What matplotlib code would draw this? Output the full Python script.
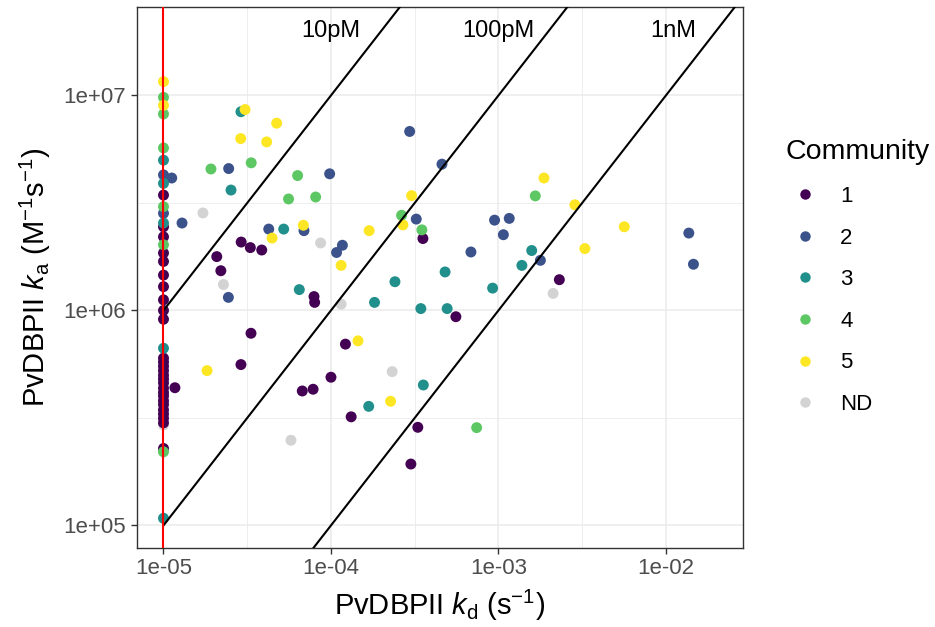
import matplotlib
matplotlib.use("Agg")
import matplotlib.pyplot as plt
from matplotlib.lines import Line2D
from matplotlib.ticker import FixedLocator, FixedFormatter, NullFormatter
import numpy as np

plt.rcParams['font.family'] = ['Liberation Sans', 'DejaVu Sans']
plt.rcParams['mathtext.fontset'] = 'custom'
plt.rcParams['mathtext.rm'] = 'Liberation Sans'
plt.rcParams['mathtext.it'] = 'Liberation Sans:italic'

# ---------------- data (kd in s^-1, ka in M^-1 s^-1) ----------------
comm1_kd = [1e-5]*26 + [1e-5,
            1.17e-5, 2.91e-5, 3.3e-5, 3.86e-5, 2.08e-5, 2.2e-5, 7.92e-5, 7.99e-5,
            3.33e-5, 2.9e-5, 1.22e-4, 1.0e-4, 6.74e-5, 7.82e-5, 1.32e-4, 3.54e-4,
            2.31e-3, 5.57e-4, 3.3e-4, 3.0e-4]
comm1_ka = [3.44e6, 2.45e6, 2.2e6, 1.85e6, 1.69e6, 1.46e6, 1.29e6, 1.12e6, 1.0e6, 9.1e5,
            6.0e5, 5.75e5, 5.5e5, 5.25e5, 5.0e5, 4.8e5, 4.6e5, 4.35e5, 4.15e5, 4.0e5,
            3.8e5, 3.65e5, 3.45e5, 3.3e5, 3.15e5, 3.0e5, 2.28e5,
            4.37e5, 2.08e6, 1.96e6, 1.91e6, 1.78e6, 1.53e6, 1.16e6, 1.09e6,
            7.83e5, 5.6e5, 6.97e5, 4.89e5, 4.22e5, 4.3e5, 3.2e5, 2.16e6,
            1.39e6, 9.35e5, 2.86e5, 1.93e5]

comm2_kd = [1e-5, 1e-5,
            1.12e-5, 1.29e-5, 2.45e-5, 9.82e-5, 4.25e-5, 6.9e-5, 1.17e-4, 1.08e-4,
            2.44e-5, 2.95e-4, 4.6e-4, 3.23e-4, 6.85e-4, 9.48e-4, 1.16e-3, 1.07e-3,
            1.78e-3, 1.37e-2, 1.46e-2]
comm2_ka = [4.27e6, 2.83e6,
            4.13e6, 2.55e6, 4.57e6, 4.32e6, 2.39e6, 2.35e6, 2.01e6, 1.86e6,
            1.15e6, 6.8e6, 4.79e6, 2.66e6, 1.87e6, 2.63e6, 2.68e6, 2.25e6,
            1.71e6, 2.29e6, 1.64e6]

comm3_kd = [1e-5]*5 + [2.9e-5, 2.53e-5, 5.22e-5, 6.47e-5, 1.82e-4, 1.68e-4, 2.41e-4,
                       4.8e-4, 9.23e-4, 1.58e-3, 1.38e-3, 3.44e-4, 4.94e-4, 3.56e-4]
comm3_ka = [5.0e6, 3.9e6, 2.55e6, 6.67e5, 1.08e5,
            8.4e6, 3.63e6, 2.39e6, 1.25e6, 1.09e6, 3.58e5, 1.36e6,
            1.51e6, 1.27e6, 1.9e6, 1.62e6, 1.02e6, 1.02e6, 4.5e5]

comm4_kd = [1e-5]*6 + [1.92e-5, 3.34e-5, 6.32e-5, 5.58e-5, 8.1e-5, 2.64e-4, 3.49e-4,
                       1.66e-3, 7.41e-4]
comm4_ka = [9.8e6, 8.2e6, 5.7e6, 3.04e6, 2.02e6, 2.2e5,
            4.55e6, 4.86e6, 4.24e6, 3.3e6, 3.37e6, 2.77e6, 2.37e6, 3.41e6, 2.85e5]

comm5_kd = [1e-5, 1e-5,
            3.07e-5, 4.74e-5, 2.89e-5, 4.13e-5, 6.84e-5, 4.45e-5, 1.69e-4, 1.15e-4,
            1.82e-5, 1.45e-4, 3.03e-4, 2.69e-4, 1.87e-3, 2.27e-4, 2.86e-3, 5.64e-3,
            3.28e-3]
comm5_ka = [1.16e7, 9.0e6,
            8.6e6, 7.43e6, 6.3e6, 6.08e6, 2.49e6, 2.17e6, 2.35e6, 1.62e6,
            5.25e5, 7.22e5, 3.42e6, 2.5e6, 4.13e6, 3.78e5, 3.1e6, 2.45e6,
            1.94e6]

nd_kd = [1e-5, 1.72e-5, 8.67e-5, 2.28e-5, 1.15e-4, 5.77e-5, 2.12e-3, 2.32e-4]
nd_ka = [2.93e5, 2.84e6, 2.06e6, 1.32e6, 1.07e6, 2.49e5, 1.2e6, 5.19e5]

community_labels = ['1', '2', '3', '4', '5', 'ND']
community_colors = ['#440154', '#3B528B', '#21908C', '#5DC863', '#FDE725', '#D3D3D3']

kd_threshold = 1e-5                      # red vertical line
affinity_KD = [1e-11, 1e-10, 1e-9]       # iso-affinity lines (M)
affinity_labels = ['10pM', '100pM', '1nM']
affinity_label_x = [1e-4, 1e-3, 1.1e-2]
affinity_label_y = 2e7

x_ticks = [1e-5, 1e-4, 1e-3, 1e-2]
x_ticklabels = ['1e-05', '1e-04', '1e-03', '1e-02']
y_ticks = [1e5, 1e6, 1e7]
y_ticklabels = ['1e+05', '1e+06', '1e+07']

# ---------------- figure ----------------
W, H = 935, 627
fig = plt.figure(figsize=(W/100, H/100), dpi=100)
ax = fig.add_axes([136.7/W, 1 - 548/H, (743.3-136.7)/W, (548-7.3)/H])

ax.set_xscale('log')
ax.set_yscale('log')
ax.set_xlim(10**-5.160, 10**-1.538)
ax.set_ylim(10**4.895, 10**7.410)

# grid
ax.xaxis.set_major_locator(FixedLocator(x_ticks))
ax.xaxis.set_major_formatter(FixedFormatter(x_ticklabels))
ax.yaxis.set_major_locator(FixedLocator(y_ticks))
ax.yaxis.set_major_formatter(FixedFormatter(y_ticklabels))
ax.xaxis.set_minor_locator(FixedLocator([10**-5.5, 10**-4.5, 10**-3.5, 10**-2.5]))
ax.yaxis.set_minor_locator(FixedLocator([10**5.5, 10**6.5]))
ax.xaxis.set_minor_formatter(NullFormatter())
ax.yaxis.set_minor_formatter(NullFormatter())
ax.grid(True, which='major', color='#EBEBEB', linewidth=1.1, zorder=0)
ax.grid(True, which='minor', color='#EBEBEB', linewidth=0.6, zorder=0)
ax.set_axisbelow(True)
ax.tick_params(which='minor', length=0)
ax.tick_params(which='major', length=4.5, width=1.0, color='#333333',
               labelsize=16, labelcolor='#4D4D4D', pad=3)
for s in ax.spines.values():
    s.set_color('#333333')
    s.set_linewidth(1.0)

groups = [(comm1_kd, comm1_ka), (comm2_kd, comm2_ka), (comm3_kd, comm3_ka),
          (comm4_kd, comm4_ka), (comm5_kd, comm5_ka), (nd_kd, nd_ka)]
order = [5, 0, 1, 2, 3, 4]
for i in order:
    kd, ka = groups[i]
    ax.scatter(kd, ka, s=62, color=community_colors[i], edgecolors='none', zorder=3)

# iso-affinity lines: ka = kd / KD
kd_line = np.array([1e-5, 10**-1.4])
for KD in affinity_KD:
    ax.plot(kd_line, kd_line / KD, color='black', linewidth=1.5, zorder=4)
for lab, xx in zip(affinity_labels, affinity_label_x):
    ax.text(xx, affinity_label_y, lab, ha='center', va='center', fontsize=17, color='black', zorder=5)

ax.axvline(kd_threshold, color='red', linewidth=1.5, zorder=5)

ax.set_xlabel(r'PvDBPII $k_\mathrm{d}$ (s$^{-1}$)', fontsize=21, labelpad=6)
ax.set_ylabel(r'PvDBPII $k_\mathrm{a}$ (M$^{-1}$s$^{-1}$)', fontsize=21, labelpad=8)

handles = [Line2D([], [], linestyle='none', marker='o', markersize=7.5,
                  markerfacecolor=c, markeredgecolor='none') for c in community_colors]
leg = ax.legend(handles, community_labels, title='Community', loc='upper left',
                bbox_to_anchor=(762.4/W, 1 - 116.5/H), bbox_transform=fig.transFigure,
                frameon=False, fontsize=16, title_fontsize=20.5, labelspacing=0.93,
                handlelength=1.8, handletextpad=0.68, borderpad=1.02, borderaxespad=0,
                alignment='left')

fig.savefig('out.png', dpi=100)
